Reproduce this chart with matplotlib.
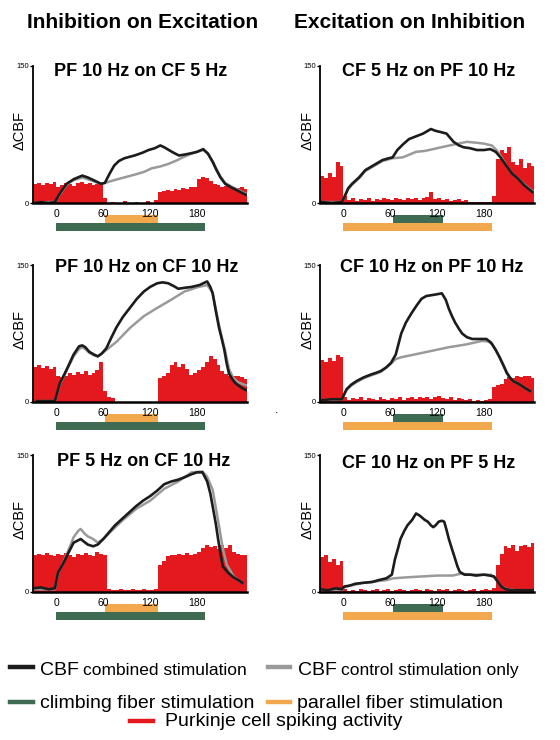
import numpy as np
import matplotlib
matplotlib.use('Agg')
import matplotlib.pyplot as plt
from matplotlib.lines import Line2D

plt.rcParams['font.family'] = ['Liberation Sans', 'DejaVu Sans']

# ---- data ----
titles = ['PF 10 Hz on CF 5 Hz', 'CF 5 Hz on PF 10 Hz',
          'PF 10 Hz on CF 10 Hz', 'CF 10 Hz on PF 10 Hz',
          'PF 5 Hz on CF 10 Hz', 'CF 10 Hz on PF 5 Hz']
col_titles = ['Inhibition on Excitation', 'Excitation on Inhibition']
xticks = [0, 60, 120, 180]

# Purkinje spiking histogram, 5 s bins starting at -30 s
bin_edges = np.arange(-30, 250, 5)
red_A = [21, 22, 20, 22, 21, 23, 18, 20, 22, 21, 19, 22, 23, 21, 22, 20, 21, 22,
         6, 0, 1, 0, 0, 2, 0, 0, 1, 0, 0, 2, 0, 3,
         12, 13, 14, 13, 15, 14, 16, 15, 17, 18, 26, 28, 27, 24, 21, 20, 18, 19, 17, 18, 16, 17, 15]
red_B = [30, 27, 33, 28, 45, 40, 8, 3, 5, 2, 4, 3, 5, 2, 4, 3, 5, 4, 3, 5, 4, 3, 5, 4,
         6, 3, 5, 7, 12, 4, 5, 3, 4, 2, 3, 4, 2, 3, 1, 1, 1, 1, 1, 1,
         8, 48, 58, 55, 61, 45, 42, 48, 38, 44, 40]
red_C = [38, 40, 37, 39, 36, 38, 28, 27, 29, 32, 30, 33, 31, 34, 30, 32, 35, 44,
         12, 6, 4, 0, 0, 0, 0, 0, 0, 0, 0, 0, 0, 0,
         26, 28, 32, 40, 44, 38, 42, 36, 30, 32, 35, 38, 44, 50, 47, 40, 34, 31, 29, 28, 28, 27, 25]
red_D = [46, 44, 48, 45, 51, 49, 6, 2, 4, 3, 5, 2, 4, 3, 2, 5, 3, 2, 4, 3, 5, 2, 4, 5,
         3, 6, 4, 5, 3, 6, 7, 4, 3, 5, 2, 4, 3, 2, 3, 1, 2, 1, 2, 3,
         16, 19, 20, 25, 27, 26, 28, 27, 29, 28, 26]
red_E = [41, 42, 40, 43, 41, 39, 42, 40, 43, 41, 38, 42, 40, 43, 41, 39, 44, 42, 40,
         3, 2, 2, 3, 2, 2, 3, 2, 2, 3, 2, 2, 3,
         30, 34, 39, 41, 40, 42, 41, 43, 40, 42, 44, 48, 52, 49, 50, 47, 52, 48, 51, 44, 42, 41, 40]
red_F = [38, 41, 33, 36, 30, 34, 3, 1, 2, 1, 3, 2, 1, 2, 3, 1, 2, 3, 1, 2, 3, 2, 1, 2,
         3, 2, 1, 3, 2, 1, 3, 2, 3, 1, 2, 3, 2, 1, 2, 3, 1, 2, 3, 2,
         4, 30, 42, 50, 48, 51, 45, 50, 52, 49, 54]

# CBF combined stimulation (black) and control only (gray)
blk_t_A = [-28, -20, -10, -2, 4, 13, 22, 33, 40, 50, 57, 62, 68, 74, 80, 87, 100, 110, 118, 126,
           133, 138, 144, 150, 157, 164, 170, 180, 188, 194, 200, 205, 210, 216, 224, 231, 240, 246]
blk_y_A = [0, 1, 0, 1, 10, 21, 26, 30, 28, 24, 21, 22, 32, 41, 46, 49, 52, 55, 58, 60,
           63, 61, 58, 55, 52, 53, 54, 56, 59, 54, 45, 36, 28, 21, 17, 14, 10, 8]
gry_t_A = [-28, -10, -2, 4, 13, 22, 33, 40, 50, 57, 62, 74, 87, 100, 112, 122, 133, 144, 155, 162,
           170, 180, 188, 194, 200, 205, 210, 216, 224, 231, 240, 246]
gry_y_A = [0, 1, 1, 9, 20, 25, 28, 26, 23, 21, 22, 25, 28, 31, 34, 38, 40, 43, 47, 50,
           53, 56, 58, 54, 46, 37, 29, 22, 18, 15, 11, 9]

blk_t_B = [-28, -15, -2, 2, 6, 11, 20, 28, 40, 50, 58, 63, 69, 76, 84, 93, 102, 108, 112, 118, 123,
           132, 141, 148, 154, 162, 171, 180, 188, 195, 201, 206, 210, 216, 223, 232, 242]
blk_y_B = [1, 0, 1, 8, 16, 21, 28, 36, 42, 47, 49, 50, 58, 64, 70, 73, 76, 79, 81, 79, 78,
           76, 67, 63, 61, 60, 58, 58, 59, 56, 50, 44, 39, 32, 27, 19, 12]
gry_t_B = [-28, -2, 2, 6, 11, 20, 28, 40, 50, 63, 76, 93, 104, 115, 125, 136, 147, 158, 170, 180,
           190, 196, 201, 206, 210, 216, 223, 232, 242]
gry_y_B = [1, 1, 8, 15, 20, 27, 35, 41, 46, 49, 50, 56, 57, 59, 61, 63, 65, 67, 66, 65,
           63, 58, 52, 45, 39, 32, 27, 20, 13]

blk_t_C = [-25, -10, -2, 4, 10, 15, 22, 29, 33, 37, 42, 48, 53, 58, 64, 70, 77, 85, 94, 103, 112, 120,
           129, 136, 143, 150, 156, 164, 173, 183, 193, 197, 200, 204, 208, 212, 215, 218, 221, 226,
           230, 238, 248]
blk_y_C = [1, 1, 1, 20, 30, 39, 52, 61, 62, 60, 55, 52, 50, 53, 59, 70, 82, 93, 103, 113, 121, 126,
           130, 131, 130, 127, 124, 125, 126, 128, 132, 126, 119, 100, 82, 68, 57, 42, 31, 24,
           20, 15, 11]
gry_t_C = [-25, -2, 4, 10, 15, 22, 29, 33, 37, 42, 48, 53, 58, 64, 77, 94, 112, 129, 147, 164, 182,
           193, 200, 204, 208, 212, 216, 221, 226, 232, 240, 248]
gry_y_C = [1, 1, 19, 29, 38, 50, 58, 60, 58, 54, 51, 50, 53, 57, 66, 81, 94, 103, 112, 121, 126,
           128, 120, 102, 85, 70, 56, 36, 27, 22, 19, 17]

blk_t_D = [-28, -15, -2, 4, 10, 17, 26, 35, 42, 48, 55, 61, 67, 74, 80, 87, 94, 100, 106, 113, 120,
           126, 131, 135, 139, 143, 148, 152, 158, 165, 174, 183, 189, 195, 200, 205, 209, 213, 217,
           226, 233, 239]
blk_y_D = [2, 3, 3, 14, 19, 23, 27, 30, 32, 34, 38, 43, 52, 75, 87, 97, 106, 113, 116, 117, 118,
           119, 112, 102, 94, 87, 80, 75, 71, 69, 69, 69, 65, 57, 49, 40, 32, 27, 23,
           19, 15, 12]
gry_t_D = [-28, -2, 4, 10, 17, 26, 35, 48, 61, 67, 74, 91, 113, 135, 157, 178, 186, 191, 198, 204,
           209, 213, 217, 226, 233, 239]
gry_y_D = [2, 3, 13, 18, 22, 26, 29, 33, 42, 47, 49, 52, 56, 60, 63, 67, 66, 63, 52, 41,
           33, 27, 23, 19, 15, 12]

blk_t_E = [-30, -20, -10, -2, 2, 9, 16, 22, 31, 40, 47, 53, 60, 67, 75, 84, 93, 102, 111, 120, 129,
           138, 147, 156, 165, 173, 180, 187, 193, 197, 200, 204, 207, 210, 213, 220, 227, 233, 238]
blk_y_E = [4, 5, 3, 4, 21, 32, 44, 54, 58, 52, 50, 52, 58, 65, 73, 80, 87, 94, 100, 105, 111,
           118, 121, 123, 126, 129, 131, 131, 121, 108, 94, 75, 58, 42, 28, 21, 16, 13, 10]
gry_t_E = [-30, -2, 2, 9, 16, 22, 28, 31, 36, 40, 47, 53, 60, 67, 84, 102, 120, 138, 156, 173,
           187, 193, 200, 205, 209, 213, 218, 227, 233, 238]
gry_y_E = [3, 3, 20, 33, 47, 60, 67, 69, 64, 61, 58, 54, 58, 64, 78, 91, 100, 113, 121, 131,
           132, 126, 112, 88, 68, 48, 30, 17, 13, 10]

blk_t_F = [-30, -20, -10, -2, 1, 8, 15, 25, 37, 45, 55, 62, 66, 70, 73, 78, 82, 88, 93, 97, 100,
           104, 108, 112, 115, 118, 122, 126, 129, 132, 135, 139, 142, 146, 149, 155, 162, 170, 180,
           187, 193, 197, 202, 208, 216, 230, 248]
blk_y_F = [3, 2, 4, 3, 6, 7, 9, 10, 11, 13, 15, 19, 36, 48, 58, 67, 73, 79, 86, 84, 82,
           79, 77, 73, 71, 73, 77, 78, 77, 68, 58, 47, 39, 28, 22, 19, 19, 18, 19,
           18, 17, 12, 6, 3, 2, 2, 2]
gry_t_F = [-30, -2, 1, 8, 15, 25, 37, 45, 55, 64, 80, 100, 120, 140, 150, 165, 180, 189, 195, 202,
           210, 220, 248]
gry_y_F = [2, 2, 5, 7, 8, 10, 11, 12, 13, 15, 16, 17, 18, 18, 20, 19, 19, 19, 14, 6,
           3, 2, 2]

reds = [red_A, red_B, red_C, red_D, red_E, red_F]
blacks = [(blk_t_A, blk_y_A), (blk_t_B, blk_y_B), (blk_t_C, blk_y_C),
          (blk_t_D, blk_y_D), (blk_t_E, blk_y_E), (blk_t_F, blk_y_F)]
grays = [(gry_t_A, gry_y_A), (gry_t_B, gry_y_B), (gry_t_C, gry_y_C),
         (gry_t_D, gry_y_D), (gry_t_E, gry_y_E), (gry_t_F, gry_y_F)]

# stimulation periods (s)
cf_left = (0, 190)
pf_left = (62, 130)
pf_right = (0, 190)
cf_right = (64, 128)

c_red = '#e3191e'
c_orange = '#f2a94e'
c_green = '#3e6b52'
c_black = '#1c1c1c'
c_gray = '#9a9a9a'

W, H = 560, 740
fig = plt.figure(figsize=(W/100, H/100), dpi=100)

def fx(px):
    return px/W

def fy(py):
    return 1 - py/H

col_x = [33, 320]
row_y = [(66, 203), (265, 402), (455, 592)]
ax_w = 214

title_pos = [(141, 71), (429, 71), (147, 267), (432, 267), (144, 461), (429, 463)]
ylab_pos = [20, 308]

for i in range(6):
    r, c = i // 2, i % 2
    top, bot = row_y[r]
    ax = fig.add_axes([fx(col_x[c]), fy(bot), ax_w/W, (bot-top)/H])
    ax.stairs(reds[i], bin_edges, fill=True, color=c_red, lw=0)
    ax.plot(grays[i][0], grays[i][1], color=c_gray, lw=1.8)
    ax.plot(blacks[i][0], blacks[i][1], color=c_black, lw=1.9)
    ax.set_xlim(-30, 244)
    ax.set_ylim(0, 150)
    for s in ['top', 'right']:
        ax.spines[s].set_visible(False)
    ax.spines['left'].set_linewidth(1.3)
    ax.spines['bottom'].set_linewidth(1.8)
    ax.set_xticks(xticks)
    ax.set_xticklabels([str(v) for v in xticks])
    ax.set_yticks([0, 150])
    ax.tick_params(axis='x', length=0, labelsize=7.5, pad=4)
    ax.tick_params(axis='y', length=2, width=1, labelsize=5.5, pad=1)
    # stimulus bars under the axis
    if c == 0:
        upper, lower = (pf_left, c_orange), (cf_left, c_green)
    else:
        upper, lower = (cf_right, c_green), (pf_right, c_orange)
    ax.barh(-17.5, upper[0][1]-upper[0][0], left=upper[0][0], height=8.8,
            color=upper[1], clip_on=False)
    ax.barh(-26.3, lower[0][1]-lower[0][0], left=lower[0][0], height=8.8,
            color=lower[1], clip_on=False)
    tx, ty = title_pos[i]
    fig.text(fx(tx), fy(ty), titles[i], fontsize=13, fontweight='bold',
             ha='center', va='center')
    fig.text(fx(ylab_pos[c]), fy((top+bot)/2 - 4), '\u0394CBF', fontsize=10.5,
             rotation=90, ha='center', va='center')

fig.text(fx(143), fy(23), col_titles[0], fontsize=15, fontweight='bold', ha='center', va='center')
fig.text(fx(410), fy(23), col_titles[1], fontsize=15, fontweight='bold', ha='center', va='center')
fig.text(fx(277), fy(413), '.', fontsize=9, ha='center', va='baseline')

# legend, drawn by hand
def leg_line(x0, x1, y, color):
    fig.add_artist(Line2D([fx(x0), fx(x1)], [fy(y), fy(y)], color=color, lw=3.2,
                          transform=fig.transFigure))

leg_line(10, 33, 667, c_black)
fig.text(fx(40), fy(675), 'CBF', fontsize=14, va='baseline')
fig.text(fx(83), fy(675), 'combined stimulation', fontsize=12.5, va='baseline')
leg_line(268, 290, 667, c_gray)
fig.text(fx(298), fy(675), 'CBF', fontsize=14, va='baseline')
fig.text(fx(341), fy(675), 'control stimulation only', fontsize=12.5, va='baseline')

leg_line(10, 33, 702, c_green)
fig.text(fx(40), fy(708), 'climbing fiber stimulation', fontsize=14, va='baseline')
leg_line(268, 290, 702, c_orange)
fig.text(fx(297), fy(708), 'parallel fiber stimulation', fontsize=14, va='baseline')

leg_line(130, 153, 721, c_red)
fig.text(fx(165), fy(726), 'Purkinje cell spiking activity', fontsize=14, va='baseline')

fig.savefig('out.png', dpi=100)
